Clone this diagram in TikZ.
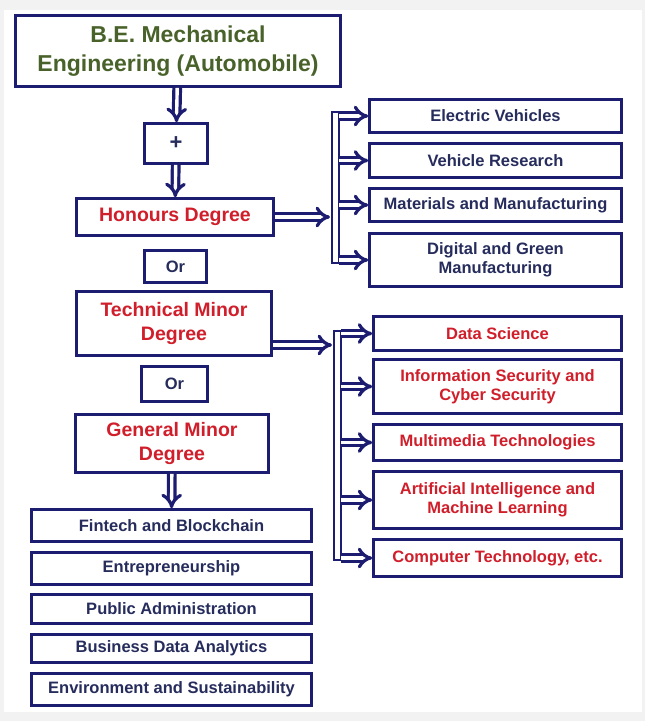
\documentclass[tikz,border=0pt]{standalone}
\usepackage{fontspec}
\setmainfont{Liberation Sans}
\usepackage{tikz}
\usetikzlibrary{arrows.meta,calc}
\definecolor{navyline}{RGB}{28,28,112}
\definecolor{navytext}{RGB}{38,44,92}
\definecolor{redtext}{RGB}{208,30,42}
\definecolor{greentext}{RGB}{72,98,42}
\definecolor{framegray}{RGB}{242,242,242}
\newcommand{\boxline}{2.6pt}
\tikzset{
  optbox/.style={draw=navyline, line width=\boxline, fill=white, align=center,
    inner sep=0pt, font=\bfseries\fontsize{16.5}{19.5}\selectfont, text=navytext},
  redbox/.style={optbox, text=redtext},
  degbox/.style={optbox, text=redtext, font=\bfseries\fontsize{19.5}{24}\selectfont},
  dblarrow/.style={draw=navyline, double=white, double distance=3.4pt, line width=3.2pt,
    -{Implies[length=8pt, width=15pt]}},
  dblbar/.style={draw=navyline, line width=2.6pt, fill=white}
}

\begin{document}
\begin{tikzpicture}[x=1pt, y=-1pt]
\useasboundingbox (0,0) rectangle (645,721);
\fill[framegray] (0,0) rectangle (645,721);
\fill[white] (4,10) rectangle (642,712);
% left column
\node[optbox, text=greentext, font=\bfseries\fontsize{23}{29}\selectfont,
  minimum width=325, minimum height=71] (be) at (178,51) {B.E. Mechanical\\Engineering (Automobile)};
\node[optbox, font=\bfseries\fontsize{22}{24}\selectfont, minimum width=63, minimum height=40] (plus) at (176,143.5) {+};
\node[degbox, minimum width=197, minimum height=37] (hon) at (175,217) {Honours Degree};
\node[optbox, minimum width=62, minimum height=32] (or1) at (175.5,266.5) {Or};
\node[degbox, minimum width=195, minimum height=64] (tech) at (174,323.5) {Technical Minor\\Degree};
\node[optbox, minimum width=66, minimum height=35] (or2) at (174.5,384) {Or};
\node[degbox, minimum width=193, minimum height=58] (gen) at (172,443.5) {General Minor\\Degree};
% general minor list
\node[optbox, minimum width=280, minimum height=32] (fin) at (171.5,525.5) {Fintech and Blockchain};
\node[optbox, minimum width=280, minimum height=32] (ent) at (171.5,568.5) {Entrepreneurship};
\node[optbox, minimum width=280, minimum height=29] (pub) at (171.5,609) {Public Administration};
\node[optbox, minimum width=280, minimum height=28] (bus) at (171.5,648.5) {Business Data Analytics};
\node[optbox, minimum width=280, minimum height=32] (env) at (171.5,689.5) {Environment and Sustainability};
% honours list
\node[optbox, minimum width=252, minimum height=33] (elec) at (495.5,116) {Electric Vehicles};
\node[optbox, minimum width=252, minimum height=34] (vres) at (495.5,160.5) {Vehicle Research};
\node[optbox, minimum width=252, minimum height=33] (mat) at (495.5,205) {Materials and Manufacturing};
\node[optbox, minimum width=252, minimum height=53] (dig) at (495.5,260) {Digital and Green\\Manufacturing};
% technical minor list
\node[redbox, minimum width=248, minimum height=34] (data) at (497.5,333.5) {Data Science};
\node[redbox, minimum width=248, minimum height=54] (info) at (497.5,386.5) {Information Security and\\Cyber Security};
\node[redbox, minimum width=248, minimum height=36] (mult) at (497.5,442.5) {Multimedia Technologies};
\node[redbox, minimum width=248, minimum height=57] (ai) at (497.5,500) {Artificial Intelligence and\\Machine Learning};
\node[redbox, minimum width=248, minimum height=37] (comp) at (497.5,558) {Computer Technology, etc.};
% bars
\coordinate (bar1top) at (332,112);
\coordinate (bar1bot) at (339,263);
\coordinate (bar2top) at (334,331);
\coordinate (bar2bot) at (341,560);
\coordinate (hin) at (330,217);
\coordinate (tin) at (332,345);
\draw[dblbar] (bar1top) rectangle (bar1bot);
\draw[dblbar] (bar2top) rectangle (bar2bot);
% arrows
\draw[dblarrow] (be) -- (plus);
\draw[dblarrow] (plus) -- (hon);
\draw[dblarrow] (gen) -- (fin);
\draw[dblarrow] (hon.east) -- (hin);
\draw[dblarrow] (tin -| tech.east) -- (tin);
\draw[dblarrow] (elec.west -| bar1bot) -- (elec.west);
\draw[dblarrow] (vres.west -| bar1bot) -- (vres.west);
\draw[dblarrow] (mat.west -| bar1bot) -- (mat.west);
\draw[dblarrow] (dig.west -| bar1bot) -- (dig.west);
\draw[dblarrow] (data.west -| bar2bot) -- (data.west);
\draw[dblarrow] (info.west -| bar2bot) -- (info.west);
\draw[dblarrow] (mult.west -| bar2bot) -- (mult.west);
\draw[dblarrow] (ai.west -| bar2bot) -- (ai.west);
\draw[dblarrow] (comp.west -| bar2bot) -- (comp.west);
\end{tikzpicture}
\end{document}
